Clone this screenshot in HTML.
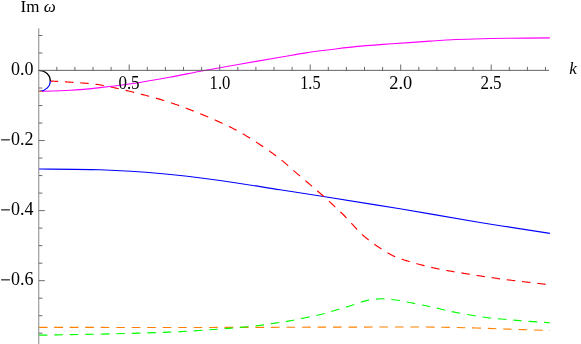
<!DOCTYPE html>
<html><head><meta charset="utf-8"><style>
html,body{margin:0;padding:0;background:#fff;}
svg{display:block;will-change:transform}
svg{font-family:"Liberation Serif",serif;font-size:18px}
text{fill:#000}
</style></head><body>
<svg width="581" height="344" viewBox="0 0 581 344">
<rect width="581" height="344" fill="#fff"/>
<g fill="none" stroke-width="1.15">
<path d="M39.00,327.30 C62.50,327.33 119.83,327.55 180.00,327.50 C240.17,327.45 355.00,327.02 400.00,327.00 C445.00,326.98 437.33,327.22 450.00,327.40 C462.67,327.57 467.67,327.81 476.00,328.05 C484.33,328.29 492.17,328.59 500.00,328.85 C507.83,329.11 514.68,329.33 523.00,329.60 C531.32,329.87 545.42,330.31 549.90,330.45" stroke="#ff8000" stroke-dasharray="8.6 6.87"/>
<path d="M39.00,335.20 C41.97,335.15 44.37,335.13 56.80,334.90 C69.23,334.67 94.73,334.27 113.60,333.80 C132.47,333.33 152.62,332.87 170.00,332.10 C187.38,331.33 206.77,329.95 217.90,329.20 C229.03,328.45 229.95,328.22 236.80,327.60 C243.65,326.98 252.63,326.25 259.00,325.50 C265.37,324.75 269.83,323.87 275.00,323.10 C280.17,322.33 284.95,321.80 290.00,320.90 C295.05,320.00 300.20,318.77 305.30,317.70 C310.40,316.63 315.57,315.75 320.60,314.50 C325.63,313.25 330.50,311.67 335.50,310.20 C340.50,308.73 345.57,307.25 350.60,305.70 C355.63,304.15 360.67,302.05 365.70,300.90 C370.73,299.75 375.85,298.95 380.80,298.80 C385.75,298.65 390.37,299.33 395.40,300.00 C400.43,300.67 405.90,301.83 411.00,302.80 C416.10,303.77 421.50,304.87 426.00,305.80 C430.50,306.73 434.03,307.50 438.00,308.40 C441.97,309.30 442.02,309.72 449.80,311.20 C457.58,312.68 473.07,315.73 484.70,317.30 C496.33,318.87 508.73,319.70 519.60,320.60 C530.47,321.50 544.85,322.35 549.90,322.70" stroke="#00ff00" stroke-dasharray="8.6 6.87"/>
<path d="M39.00,169.00 C49.17,169.13 79.83,169.05 100.00,169.80 C120.17,170.55 140.00,171.72 160.00,173.50 C180.00,175.28 200.00,177.78 220.00,180.50 C240.00,183.22 263.02,187.18 280.00,189.80 C296.98,192.42 301.90,193.03 321.90,196.20 C341.90,199.37 373.65,204.43 400.00,208.80 C426.35,213.18 455.02,218.36 480.00,222.45 C504.98,226.54 538.25,231.53 549.90,233.35" stroke="#0000ff"/>
<path d="M49.80,81.00L50.13,81.02L50.49,81.04L50.88,81.06L51.30,81.09L51.75,81.11L52.22,81.14L52.71,81.16L53.23,81.19L53.77,81.22L54.33,81.25L54.91,81.28L55.51,81.31L56.13,81.34L56.76,81.38L57.41,81.41L58.08,81.45L58.17,81.45M65.00,81.84L65.19,81.85L65.93,81.89L66.66,81.94L67.39,81.98L68.12,82.03L68.85,82.07L69.57,82.12L70.28,82.16L70.99,82.21L71.69,82.26L72.37,82.31L73.05,82.35L73.44,82.38M80.27,82.86L80.44,82.88L81.03,82.91L81.62,82.95L82.20,82.99L82.79,83.02L83.37,83.06L83.95,83.10L84.54,83.14L85.12,83.18L85.71,83.22L86.30,83.27L86.89,83.31L87.49,83.36L88.09,83.41L88.69,83.46L88.71,83.46M95.50,84.22L95.72,84.24L96.40,84.34L97.10,84.44L97.81,84.55L98.53,84.66L99.26,84.78L100.00,84.90L100.75,85.03L101.52,85.16L102.30,85.30L103.09,85.45L103.85,85.59M110.56,86.92L110.61,86.94L111.48,87.12L112.36,87.31L113.25,87.50L114.14,87.69L115.03,87.89L115.93,88.09L116.83,88.29L117.74,88.49L118.64,88.70L118.82,88.74M125.62,90.33L125.94,90.40L126.85,90.62L127.76,90.84L128.67,91.06L129.57,91.28L130.47,91.50L131.37,91.72L132.26,91.94L133.14,92.16L134.02,92.38L134.04,92.38M140.83,94.10L141.01,94.15L141.88,94.37L142.75,94.60L143.62,94.82L144.50,95.05L145.37,95.28L146.24,95.51L147.11,95.74L147.99,95.97L148.86,96.21L149.21,96.30M155.95,98.17L156.71,98.38L157.58,98.64L158.46,98.89L159.33,99.14L160.20,99.40L161.08,99.66L161.95,99.92L162.82,100.19L163.69,100.46L164.26,100.63M170.92,102.77L171.54,102.98L172.42,103.27L173.29,103.57L174.16,103.87L175.03,104.17L175.91,104.47L176.78,104.77L177.65,105.08L178.53,105.39L179.11,105.60M185.69,108.00L186.38,108.26L187.25,108.59L188.12,108.92L189.00,109.25L189.87,109.59L190.74,109.93L191.61,110.27L192.48,110.61L193.36,110.95L193.77,111.12M200.26,113.74L200.34,113.77L201.21,114.14L202.08,114.50L202.95,114.86L203.83,115.23L204.70,115.60L205.57,115.97L206.44,116.34L207.32,116.71L208.19,117.08L208.25,117.11M214.68,119.87L215.17,120.09L216.04,120.47L216.91,120.85L217.79,121.24L218.66,121.63L219.53,122.02L220.41,122.41L221.28,122.81L222.15,123.21L222.59,123.41M228.91,126.41L229.13,126.52L230.00,126.95L230.88,127.38L231.75,127.82L232.62,128.27L233.49,128.71L234.36,129.17L235.24,129.63L236.11,130.09L236.62,130.37M242.73,133.79L243.14,134.03L244.04,134.55L244.94,135.09L245.84,135.63L246.75,136.18L247.66,136.73L248.58,137.29L249.49,137.86L250.15,138.26M256.05,142.02L256.82,142.52L257.73,143.11L258.63,143.71L259.53,144.30L260.43,144.90L261.32,145.50L262.20,146.09L263.08,146.69L263.27,146.82M269.03,150.79L269.04,150.80L269.85,151.37L270.65,151.94L271.45,152.50L272.23,153.06L273.00,153.61L273.76,154.16L274.50,154.70L275.23,155.23L275.95,155.77L276.06,155.85M281.58,160.16L281.90,160.42L282.51,160.92L283.12,161.43L283.72,161.93L284.32,162.43L284.90,162.93L285.49,163.42L286.06,163.92L286.64,164.42L287.21,164.91L287.77,165.41L288.18,165.77M293.43,170.41L293.93,170.86L294.50,171.35L295.07,171.86L295.65,172.36L296.23,172.86L296.81,173.37L297.40,173.88L298.00,174.39L298.60,174.90L299.21,175.41L299.82,175.93L299.98,176.07M305.33,180.59L305.39,180.64L306.02,181.17L306.64,181.70L307.27,182.23L307.90,182.76L308.52,183.29L309.15,183.82L309.77,184.35L310.40,184.88L311.02,185.41L311.64,185.94L311.94,186.20M317.25,190.76L317.76,191.20L318.36,191.72L318.95,192.23L319.54,192.75L320.13,193.26L320.71,193.78L321.29,194.29L321.87,194.79L322.44,195.30L323.00,195.80L323.56,196.30L323.76,196.48M328.96,201.16L329.47,201.63L329.99,202.10L330.51,202.57L331.02,203.05L331.53,203.52L332.04,203.99L332.55,204.46L333.06,204.92L333.56,205.39L334.07,205.86L334.57,206.33L335.07,206.80L335.32,207.04M340.39,211.87L340.57,212.04L341.07,212.53L341.57,213.01L342.08,213.51L342.58,214.00L343.09,214.50L343.60,215.00L344.11,215.51L344.62,216.02L345.13,216.53L345.63,217.05L346.14,217.58L346.53,217.99M351.28,223.13L351.68,223.56L352.18,224.11L352.68,224.66L353.18,225.21L353.68,225.76L354.18,226.31L354.68,226.86L355.19,227.40L355.69,227.95L356.19,228.49L356.69,229.02L357.15,229.50M362.09,234.45L362.26,234.61L362.77,235.08L363.29,235.55L363.80,236.00L364.32,236.45L364.83,236.89L365.36,237.34L365.88,237.77L366.41,238.21L366.94,238.64L367.47,239.07L368.01,239.50L368.55,239.92L368.71,240.05M374.34,244.21L374.49,244.32L375.03,244.70L375.57,245.07L376.10,245.44L376.64,245.80L377.17,246.16L377.70,246.51L378.22,246.86L378.75,247.21L379.27,247.55L379.78,247.89L380.29,248.22L380.80,248.55L381.31,248.87L381.54,249.02M387.49,252.71L387.64,252.80L388.01,253.02L388.38,253.24L388.75,253.46L389.10,253.66L389.46,253.87L389.80,254.06L390.15,254.26L390.49,254.45L390.83,254.63L391.17,254.81L391.51,254.99L391.86,255.17L392.20,255.34L392.55,255.52L392.90,255.69L393.26,255.85L393.62,256.02L393.99,256.19L394.37,256.36L394.76,256.53L395.15,256.69L395.17,256.70M401.69,259.14L402.22,259.32L402.86,259.53L403.51,259.75L404.17,259.97L404.85,260.18L405.54,260.41L406.24,260.63L406.96,260.85L407.69,261.07L408.42,261.30L409.17,261.53L409.77,261.70M416.35,263.59L417.13,263.80L417.97,264.03L418.80,264.25L419.64,264.48L420.48,264.70L421.33,264.92L422.17,265.14L423.02,265.36L423.87,265.58L424.55,265.75M431.21,267.35L431.47,267.41L432.30,267.60L433.13,267.79L433.96,267.97L434.80,268.15L435.64,268.33L436.49,268.51L437.34,268.69L438.19,268.86L439.05,269.03L439.51,269.12M446.24,270.39L446.88,270.50L447.76,270.66L448.64,270.81L449.52,270.97L450.41,271.12L451.29,271.27L452.18,271.42L453.07,271.57L453.95,271.72L454.59,271.83M461.35,272.94L461.93,273.04L462.81,273.18L463.69,273.33L464.57,273.47L465.45,273.61L466.33,273.76L467.20,273.90L468.07,274.04L468.93,274.18L469.72,274.31M476.49,275.40L477.26,275.53L478.08,275.65L478.90,275.78L479.72,275.91L480.54,276.04L481.36,276.16L482.19,276.29L483.01,276.41L483.84,276.54L484.68,276.66L484.87,276.69M491.65,277.67L492.47,277.79L493.38,277.92L494.29,278.05L495.22,278.17L496.17,278.30L497.12,278.43L498.09,278.56L499.07,278.70L500.05,278.83M506.84,279.71L507.78,279.83L509.03,279.98L510.30,280.14L511.60,280.30L512.92,280.46L514.26,280.62L515.26,280.74M522.06,281.56L522.59,281.62L523.99,281.78L525.39,281.95L526.79,282.11L528.18,282.28L529.56,282.44L530.48,282.54M537.29,283.33L537.44,283.35L538.67,283.49L539.86,283.63L541.01,283.76L542.12,283.89L543.19,284.02L544.22,284.14L545.20,284.25L545.71,284.31" stroke="#ff0000"/>
<path d="M39.00,91.40 C44.17,91.22 59.83,90.93 70.00,90.30 C80.17,89.67 89.18,88.78 100.00,87.60 C110.82,86.42 123.27,84.93 134.90,83.20 C146.53,81.47 158.45,79.28 169.80,77.20 C181.15,75.12 191.37,72.87 203.00,70.70 C214.63,68.53 226.77,66.43 239.60,64.20 C252.43,61.97 268.97,59.18 280.00,57.30 C291.03,55.42 297.20,54.20 305.80,52.90 C314.40,51.60 322.98,50.58 331.60,49.50 C340.22,48.42 348.88,47.25 357.50,46.40 C366.12,45.55 374.70,45.03 383.30,44.40 C391.90,43.77 401.32,43.15 409.10,42.60 C416.88,42.05 422.18,41.61 430.00,41.10 C437.82,40.59 447.33,39.95 456.00,39.55 C464.67,39.15 473.33,38.91 482.00,38.70 C490.67,38.49 496.68,38.44 508.00,38.30 C519.32,38.16 542.92,37.92 549.90,37.85" stroke="#ff00ff"/>
<path d="M39,70.5 C45.5,70.5 50.3,75 50.3,81" stroke="#000"/>
<path d="M50.3,81 C50.3,86.5 45.5,91 39.5,91.4" stroke="#0000ff"/>
<path d="M38.6,91.3h3.3" stroke="#ff8000"/>
</g>
<g fill="none" stroke="#5a5a5a" stroke-width="0.9">
<path d="M38.75,28.3V344" stroke="#7a7a7a"/><path d="M38.3,70.35H549" stroke="#505050"/>
<path d="M56.80,70.50v-3.6M74.90,70.50v-3.6M93.00,70.50v-3.6M111.10,70.50v-3.6M129.20,70.50v-6.0M147.30,70.50v-3.6M165.40,70.50v-3.6M183.50,70.50v-3.6M201.60,70.50v-3.6M219.70,70.50v-6.0M237.80,70.50v-3.6M255.90,70.50v-3.6M274.00,70.50v-3.6M292.10,70.50v-3.6M310.20,70.50v-6.0M328.30,70.50v-3.6M346.40,70.50v-3.6M364.50,70.50v-3.6M382.60,70.50v-3.6M400.70,70.50v-6.0M418.80,70.50v-3.6M436.90,70.50v-3.6M455.00,70.50v-3.6M473.10,70.50v-3.6M491.20,70.50v-6.0M509.30,70.50v-3.6M527.40,70.50v-3.6M545.50,70.50v-3.6M38.80,333.23h3.6M38.80,315.71h3.6M38.80,298.20h3.6M38.80,280.68h6.0M38.80,263.17h3.6M38.80,245.65h3.6M38.80,228.14h3.6M38.80,210.62h6.0M38.80,193.11h3.6M38.80,175.59h3.6M38.80,158.07h3.6M38.80,140.56h6.0M38.80,123.05h3.6M38.80,105.53h3.6M38.80,88.02h3.6M38.80,52.98h3.6M38.80,35.47h3.6"/>
</g>
<text x="20.5" y="11.8" style="font-size:17px">Im <tspan font-style="italic">ω</tspan></text>
<text x="569.2" y="74.1" style="font-size:17px" font-style="italic">k</text>
<g text-anchor="middle">
<text transform="translate(129,88.6) scale(0.945,1)">0.5</text>
<text transform="translate(220.0,88.6) scale(0.925,1)">1.0</text>
<text transform="translate(310.4,88.6) scale(0.905,1)">1.5</text>
<text transform="translate(400.8,88.6) scale(1.02,1)">2.0</text>
<text transform="translate(491,88.6) scale(0.945,1)">2.5</text>
</g>
<g text-anchor="end">
<text x="33.5" y="75.2">0.0</text>
<text x="33.5" y="145.2">0.2</text>
<rect x="1.1" y="139.28" width="8.8" height="1.15" fill="#1a1a1a"/>
<text x="33.5" y="215.2">0.4</text>
<rect x="1.1" y="209.28" width="8.8" height="1.15" fill="#1a1a1a"/>
<text x="33.5" y="285.2">0.6</text>
<rect x="1.1" y="279.27" width="8.8" height="1.15" fill="#1a1a1a"/>
</g>
</svg>
</body></html>
